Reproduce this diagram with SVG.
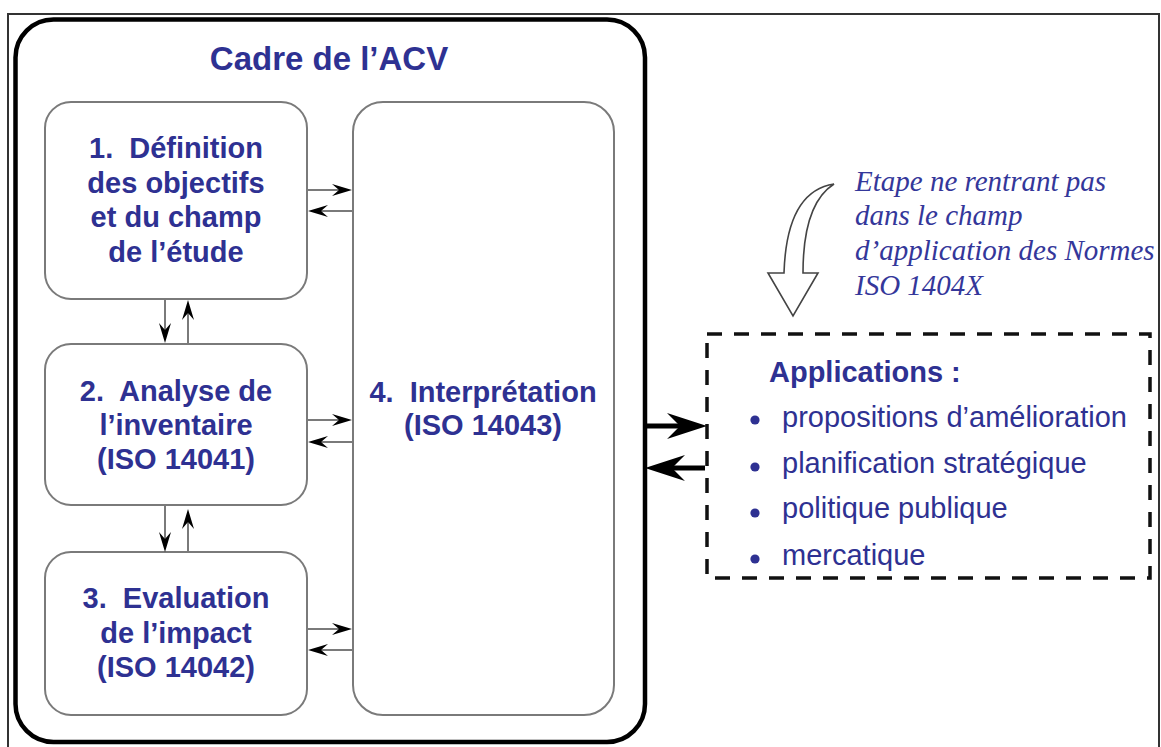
<svg xmlns="http://www.w3.org/2000/svg" width="1161" height="747" viewBox="0 0 1161 747">
  <style>
    .lbl { font-family: "Liberation Sans", Arial, sans-serif; font-weight: bold; font-size: 29px; fill: #2e3192; text-anchor: middle; }
    .title { font-family: "Liberation Sans", Arial, sans-serif; font-weight: bold; font-size: 33px; fill: #2e3192; text-anchor: middle; }
    .note { font-family: "Liberation Serif", "Times New Roman", serif; font-style: italic; font-size: 29px; fill: #34379a; }
    .app { font-family: "Liberation Sans", Arial, sans-serif; font-size: 29px; fill: #2e3192; }
    .apph { font-family: "Liberation Sans", Arial, sans-serif; font-weight: bold; font-size: 29px; fill: #2e3192; }
    .dot { fill: #2e3192; }
    .box { fill: #ffffff; stroke: #7a7a7a; stroke-width: 2; }
    .thin { stroke: #7a7a7a; stroke-width: 2; fill: none; }
    .bold { stroke: #000000; stroke-width: 5; fill: none; }
  </style>
  <defs>
    <marker id="sm" viewBox="0 0 20 14" markerWidth="20" markerHeight="14" refX="16" refY="7" orient="auto" markerUnits="userSpaceOnUse">
      <path d="M0,1 L20,7 L0,13 L7,7 Z" fill="#000000"/>
    </marker>
    <marker id="lg" viewBox="0 0 40 28" markerWidth="40" markerHeight="28" refX="28" refY="14" orient="auto" markerUnits="userSpaceOnUse">
      <path d="M0,1 L40,14 L0,27 L13,14 Z" fill="#000000"/>
    </marker>
  </defs>

  <rect x="0" y="0" width="1161" height="747" fill="#ffffff"/>

  <!-- outer page border -->
  <rect x="8" y="14" width="1151" height="742" fill="none" stroke="#333333" stroke-width="2"/>

  <!-- framework container -->
  <g id="cadre">
    <rect x="15.5" y="19.5" width="629.5" height="722.5" rx="38" ry="38" fill="none" stroke="#000000" stroke-width="4.5"/>
    <text class="title" x="329" y="70">Cadre de l’ACV</text>
  </g>

  <g id="definition">
    <rect class="box" x="45" y="102" width="262" height="197" rx="26" ry="26"/>
    <text class="lbl" xml:space="preserve" x="176" y="158">1.  Définition</text>
    <text class="lbl" x="176" y="193">des objectifs</text>
    <text class="lbl" x="176" y="227">et du champ</text>
    <text class="lbl" x="176" y="262">de l’étude</text>
  </g>

  <g id="inventaire">
    <rect class="box" x="45" y="344" width="262" height="161" rx="26" ry="26"/>
    <text class="lbl" xml:space="preserve" x="176" y="401">2.  Analyse de</text>
    <text class="lbl" x="176" y="435">l’inventaire</text>
    <text class="lbl" x="176" y="469">(ISO 14041)</text>
  </g>

  <g id="impact">
    <rect class="box" x="45" y="552" width="262" height="163" rx="26" ry="26"/>
    <text class="lbl" xml:space="preserve" x="176" y="608">3.  Evaluation</text>
    <text class="lbl" x="176" y="643">de l’impact</text>
    <text class="lbl" x="176" y="677">(ISO 14042)</text>
  </g>

  <g id="interpretation">
    <rect class="box" x="353" y="102" width="261" height="613" rx="30" ry="30"/>
    <text class="lbl" xml:space="preserve" x="483" y="402">4.  Interprétation</text>
    <text class="lbl" x="483" y="435">(ISO 14043)</text>
  </g>

  <g id="applications">
    <rect x="707" y="334" width="443" height="244" fill="none" stroke="#111111" stroke-width="3.5" stroke-dasharray="15 12"/>
    <text class="apph" x="769" y="382">Applications :</text>
    <circle class="dot" cx="755" cy="420" r="4.6"/>
    <circle class="dot" cx="755" cy="467" r="4.6"/>
    <circle class="dot" cx="755" cy="513" r="4.6"/>
    <circle class="dot" cx="755" cy="559" r="4.6"/>
    <text class="app" x="782" y="427">propositions d’amélioration</text>
    <text class="app" x="782" y="473">planification stratégique</text>
    <text class="app" x="782" y="518">politique publique</text>
    <text class="app" x="782" y="565">mercatique</text>
  </g>

  <g id="remarque">
    <path d="M834,184 C808,188 786,210 784,273 L768,273 L793,316 L818,273 L803,273 C803,230 812,198 834,184 Z" fill="#ffffff" stroke="#444444" stroke-width="1.6" stroke-linejoin="miter"/>
    <text class="note" x="855" y="191">Etape ne rentrant pas</text>
    <text class="note" x="855" y="225">dans le champ</text>
    <text class="note" x="855" y="260">d’application des Normes</text>
    <text class="note" x="855" y="295">ISO 1404X</text>
  </g>

  <g id="connectors">
    <!-- definition <-> interpretation -->
    <line class="thin" x1="308" y1="190" x2="348" y2="190" marker-end="url(#sm)"/>
    <line class="thin" x1="352" y1="211" x2="312" y2="211" marker-end="url(#sm)"/>
    <!-- inventaire <-> interpretation -->
    <line class="thin" x1="308" y1="420" x2="348" y2="420" marker-end="url(#sm)"/>
    <line class="thin" x1="352" y1="442" x2="312" y2="442" marker-end="url(#sm)"/>
    <!-- impact <-> interpretation -->
    <line class="thin" x1="308" y1="629" x2="348" y2="629" marker-end="url(#sm)"/>
    <line class="thin" x1="352" y1="650" x2="312" y2="650" marker-end="url(#sm)"/>
    <!-- definition <-> inventaire -->
    <line class="thin" x1="165" y1="299" x2="165" y2="339" marker-end="url(#sm)"/>
    <line class="thin" x1="188" y1="344" x2="188" y2="304" marker-end="url(#sm)"/>
    <!-- inventaire <-> impact -->
    <line class="thin" x1="165" y1="505" x2="165" y2="548" marker-end="url(#sm)"/>
    <line class="thin" x1="188" y1="552" x2="188" y2="513" marker-end="url(#sm)"/>
    <!-- framework <-> applications -->
    <line class="bold" x1="645" y1="426" x2="695" y2="426" marker-end="url(#lg)"/>
    <line class="bold" x1="705" y1="468" x2="657" y2="468" marker-end="url(#lg)"/>
  </g>
</svg>
